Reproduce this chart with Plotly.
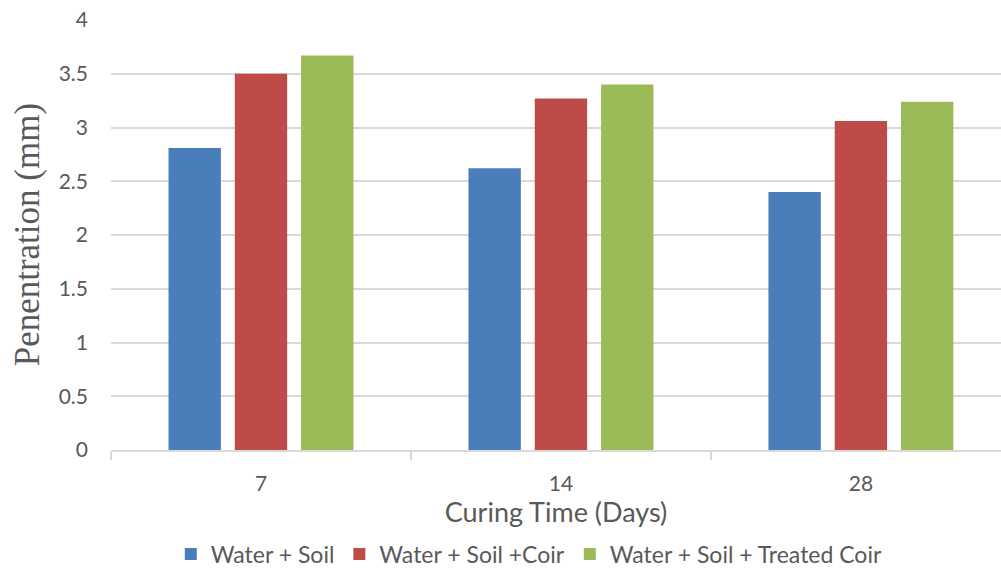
import plotly.graph_objects as go

categories = ["7", "14", "28"]
water_soil = [2.81, 2.62, 2.40]
water_soil_coir = [3.50, 3.27, 3.06]
water_soil_treated = [3.67, 3.40, 3.24]
series_names = ["Water + Soil", "Water + Soil +Coir", "Water + Soil + Treated Coir"]
colors = ["#4a7ebb", "#be4b48", "#9bbb59"]

fig = go.Figure()
for name, vals, c in zip(series_names, [water_soil, water_soil_coir, water_soil_treated], colors):
    fig.add_trace(go.Bar(x=categories, y=vals, name=name, marker=dict(color=c, line=dict(width=0))))

sans = "Lato, Open Sans, sans-serif"
tickfont = dict(family=sans, size=21, color="#595959")
fig.update_layout(
    width=1001, height=570,
    margin=dict(l=111, r=0, t=20, b=120, autoexpand=False),
    paper_bgcolor="white", plot_bgcolor="white",
    barmode="group", bargap=0.337, bargroupgap=0.21,
    showlegend=True,
    legend=dict(orientation="h", x=0.47, xanchor="center", y=-0.242, yanchor="middle",
                font=dict(family=sans, size=23, color="#595959"),
                traceorder="normal", itemwidth=30, tracegroupgap=0),
    xaxis=dict(type="category", range=[-0.5, 2.467], showline=True, linecolor="#d9d9d9", linewidth=1.5,
               ticks="outside", tickson="boundaries", ticklen=8, tickcolor="#d9d9d9", tickwidth=1.5,
               tickfont=tickfont, showgrid=False, ticklabelstandoff=14, automargin=False,
               title=dict(text="Curing Time (Days)", font=dict(family=sans, size=27, color="#595959"), standoff=0)),
    yaxis=dict(range=[0, 4], dtick=0.5, tick0=0, showgrid=True, gridcolor="#d9d9d9", gridwidth=1.5,
               zeroline=False, showline=False, tickfont=tickfont, ticklabelstandoff=22,
               tickformat="~g", automargin=False),
    annotations=[dict(text="Penentration (mm)", xref="paper", yref="paper", x=-0.094, y=0.5,
                      xanchor="center", yanchor="middle", textangle=-90, showarrow=False,
                      font=dict(family="Liberation Serif, Times New Roman, serif", size=35, color="#595959"))],
)
fig.write_html("out.html", config={"displayModeBar": False, "responsive": False},
               post_script="document.body.style.margin='0';document.body.style.padding='0';document.body.style.overflow='hidden';")
